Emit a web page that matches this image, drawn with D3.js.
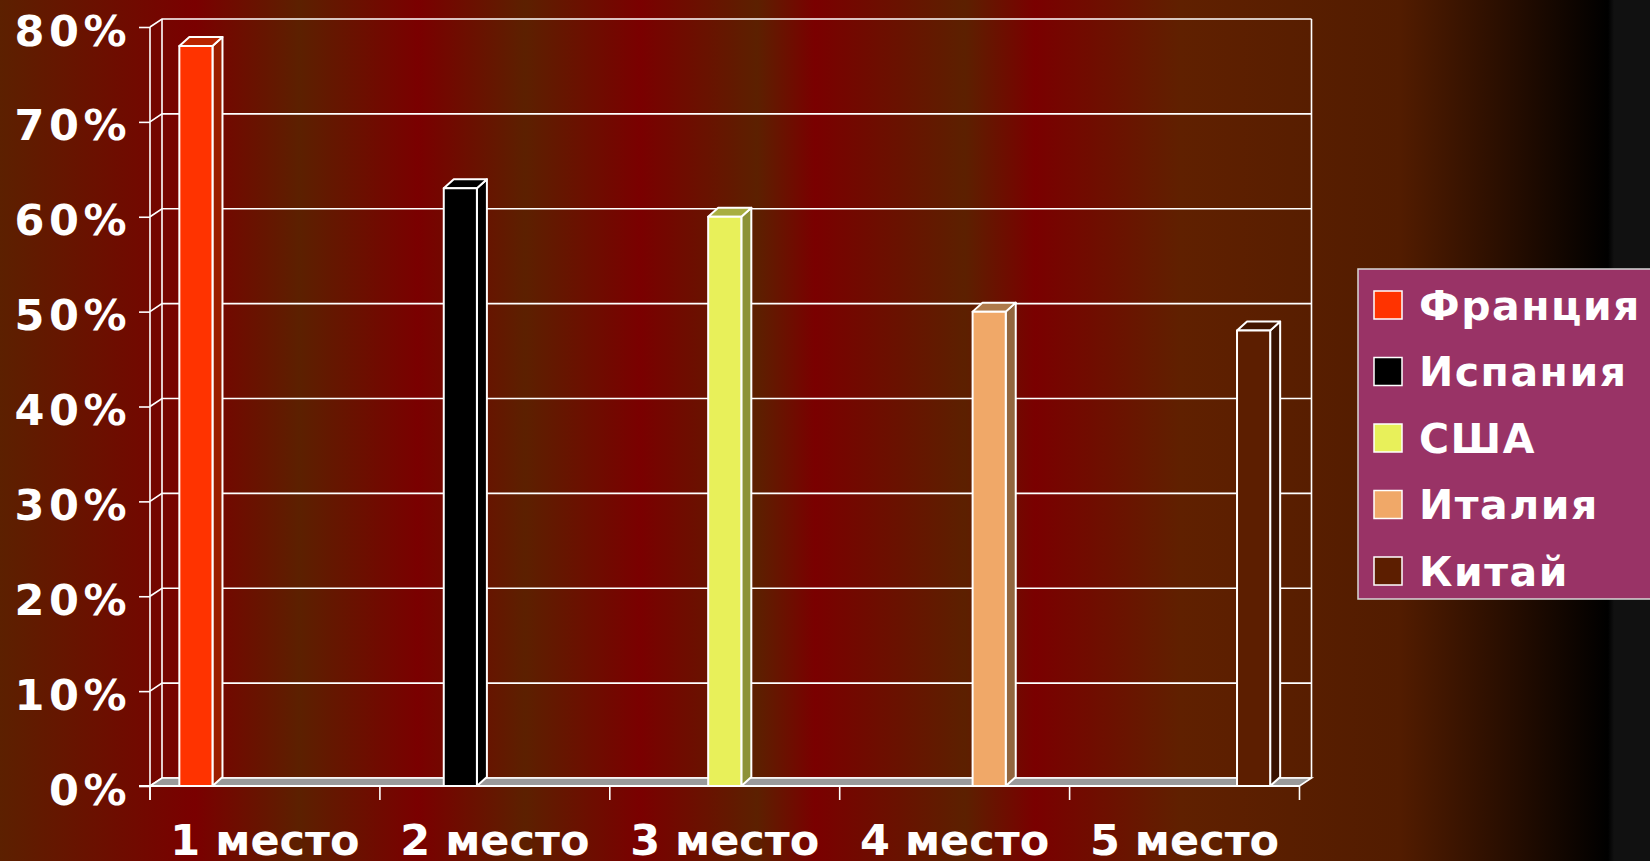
<!DOCTYPE html>
<html>
<head>
<meta charset="utf-8">
<script src="https://cdn.jsdelivr.net/npm/d3@7"></script>
<style>
  html, body { margin: 0; padding: 0; background: #111; }
  svg { display: block; }
  .lbl { font-family: "DejaVu Sans", Verdana, sans-serif; font-weight: bold; fill: #fff; }
</style>
</head>
<body>
<div id="chart"></div>
<script>
// Chart data
const categories = ["1 место", "2 место", "3 место", "4 место", "5 место"];
const seriesNames = ["Франция", "Испания", "США", "Италия", "Китай"];
const seriesColors = ["#FF3300", "#000000", "#E8F05A", "#F0A868", "#5C1E00"];
const francia = [78, 0, 0, 0, 0];
const ispania = [0, 63, 0, 0, 0];
const usa = [0, 0, 60, 0, 0];
const italia = [0, 0, 0, 50, 0];
const kitai = [0, 0, 0, 0, 48];
const seriesValues = [francia, ispania, usa, italia, kitai];
const yTicks = [0, 10, 20, 30, 40, 50, 60, 70, 80];

const width = 1650, height = 861;
const depthX = 12, depthY = 8;      // wall depth
const barDX = 10, barDY = 9;        // bar depth

const svg = d3.select("#chart")
    .append("svg")
    .attr("width", width)
    .attr("height", height);

// background stripes
const defs = svg.append("defs");
const brown = "#5C2000", red = "#7A0000";
const bgStops = [
    [0, brown], [195, red], [300, brown], [418, red], [525, brown],
    [640, red], [757, brown], [815, red], [965, brown], [1035, red],
    [1180, "#602000"], [1400, "#521C00"], [1608, "#000000"], [1614, "#111111"], [1650, "#111111"]
];
const grad = defs.append("linearGradient")
    .attr("id", "bg")
    .attr("x1", 0).attr("x2", 1).attr("y1", 0).attr("y2", 0);
grad.selectAll("stop")
    .data(bgStops)
    .join("stop")
    .attr("offset", d => d[0] / width)
    .attr("stop-color", d => d[1]);

svg.append("rect")
    .attr("width", width)
    .attr("height", height)
    .attr("fill", "url(#bg)");

// scales
const x0 = d3.scaleBand()
    .domain(categories)
    .range([150, 1299.5]);

const x1 = d3.scaleBand()
    .domain(seriesNames)
    .range([0, x0.bandwidth()])
    .paddingInner(0.04)
    .paddingOuter(0.85);

const y = d3.scaleLinear()
    .domain([0, 80])
    .range([786, 27]);

const xLeft = x0.range()[0], xRight = x0.range()[1];
const yTop = y(80), yBottom = y(0);

// walls and grid
const grid = svg.append("g")
    .attr("fill", "none")
    .attr("stroke", "#fff")
    .attr("stroke-width", 1.6);

grid.selectAll(".grid")
    .data(yTicks)
    .join("polyline")
    .attr("class", "grid")
    .attr("points", d => `${xLeft},${y(d)} ${xLeft + depthX},${y(d) - depthY} ${xRight + depthX},${y(d) - depthY}`);

// floor
svg.append("polygon")
    .attr("points", `${xLeft},${yBottom} ${xLeft + depthX},${yBottom - depthY} ${xRight + depthX},${yBottom - depthY} ${xRight},${yBottom}`)
    .attr("fill", "#9a9a9a")
    .attr("stroke", "#fff")
    .attr("stroke-width", 1.6);

grid.append("line")
    .attr("x1", xLeft + depthX).attr("x2", xLeft + depthX)
    .attr("y1", yTop - depthY).attr("y2", yBottom - depthY);
grid.append("line")
    .attr("x1", xRight + depthX).attr("x2", xRight + depthX)
    .attr("y1", yTop - depthY).attr("y2", yBottom - depthY);

// bars
const barData = [];
seriesNames.forEach((s, si) => {
    categories.forEach((c, ci) => {
        const v = seriesValues[si][ci];
        if (v > 0) barData.push({ series: s, category: c, value: v, color: seriesColors[si] });
    });
});

const bars = svg.append("g")
    .selectAll(".bar")
    .data(barData)
    .join("g")
    .attr("class", "bar")
    .attr("stroke", "#fff")
    .attr("stroke-width", 2)
    .attr("stroke-linejoin", "round");

const bx = d => x0(d.category) + x1(d.series);
const bw = x1.bandwidth();

bars.append("polygon")   // side
    .attr("points", d => {
        const xr = bx(d) + bw, yt = y(d.value);
        return `${xr},${yt} ${xr + barDX},${yt - barDY} ${xr + barDX},${yBottom - barDY} ${xr},${yBottom}`;
    })
    .attr("fill", d => d3.color(d.color).darker(1.4));

bars.append("polygon")   // top
    .attr("points", d => {
        const xl = bx(d), yt = y(d.value);
        return `${xl},${yt} ${xl + barDX},${yt - barDY} ${xl + bw + barDX},${yt - barDY} ${xl + bw},${yt}`;
    })
    .attr("fill", d => d3.color(d.color).darker(0.9));

bars.append("rect")      // front
    .attr("x", bx)
    .attr("y", d => y(d.value))
    .attr("width", bw)
    .attr("height", d => yBottom - y(d.value))
    .attr("fill", d => d.color);

// y axis
const yAxis = svg.append("g")
    .attr("transform", `translate(${xLeft},0)`)
    .call(d3.axisLeft(y)
        .tickValues(yTicks)
        .tickFormat(d => d + "%")
        .tickSize(11)
        .tickSizeOuter(0)
        .tickPadding(12));
yAxis.select(".domain").remove();
yAxis.selectAll(".tick line").attr("stroke", "#fff").attr("stroke-width", 1.6);
yAxis.selectAll(".tick text")
    .attr("class", "lbl")
    .attr("dy", "0.42em")
    .style("font-size", "43px")
    .style("letter-spacing", "4.5px")
    .attr("dx", 4);

svg.append("line")
    .attr("x1", xLeft).attr("x2", xLeft)
    .attr("y1", yTop).attr("y2", yBottom + 14)
    .attr("stroke", "#fff").attr("stroke-width", 1.6);

// x axis
svg.append("line")
    .attr("x1", xLeft - 11).attr("x2", xRight)
    .attr("y1", yBottom).attr("y2", yBottom)
    .attr("stroke", "#fff").attr("stroke-width", 2);

const xTickPos = categories.map(c => x0(c)).concat([xRight]);
svg.selectAll(".xtick")
    .data(xTickPos)
    .join("line")
    .attr("class", "xtick")
    .attr("x1", d => d).attr("x2", d => d)
    .attr("y1", yBottom).attr("y2", yBottom + 14)
    .attr("stroke", "#fff").attr("stroke-width", 1.6);

svg.selectAll(".xlabel")
    .data(categories)
    .join("text")
    .attr("class", "lbl xlabel")
    .attr("x", d => x0(d) + x0.bandwidth() / 2)
    .attr("y", 855)
    .attr("text-anchor", "middle")
    .style("font-size", "43px")
    .text(d => d);

// legend
const legend = svg.append("g").attr("transform", "translate(1358,269)");
legend.append("rect")
    .attr("width", 320)
    .attr("height", 330)
    .attr("fill", "#993366")
    .attr("stroke", "#d8d8d8")
    .attr("stroke-width", 1.5);

const items = legend.selectAll(".item")
    .data(seriesNames)
    .join("g")
    .attr("class", "item")
    .attr("transform", (d, i) => `translate(0,${36 + i * 66.5})`);

items.append("rect")
    .attr("x", 16).attr("y", -14)
    .attr("width", 28).attr("height", 28)
    .attr("fill", (d, i) => seriesColors[i])
    .attr("stroke", "#fff")
    .attr("stroke-width", 1.5);

items.append("text")
    .attr("class", "lbl")
    .attr("x", 61)
    .attr("dy", "0.36em")
    .style("font-size", "41px")
    .style("letter-spacing", "1.5px")
    .text(d => d);
</script>
</body>
</html>
